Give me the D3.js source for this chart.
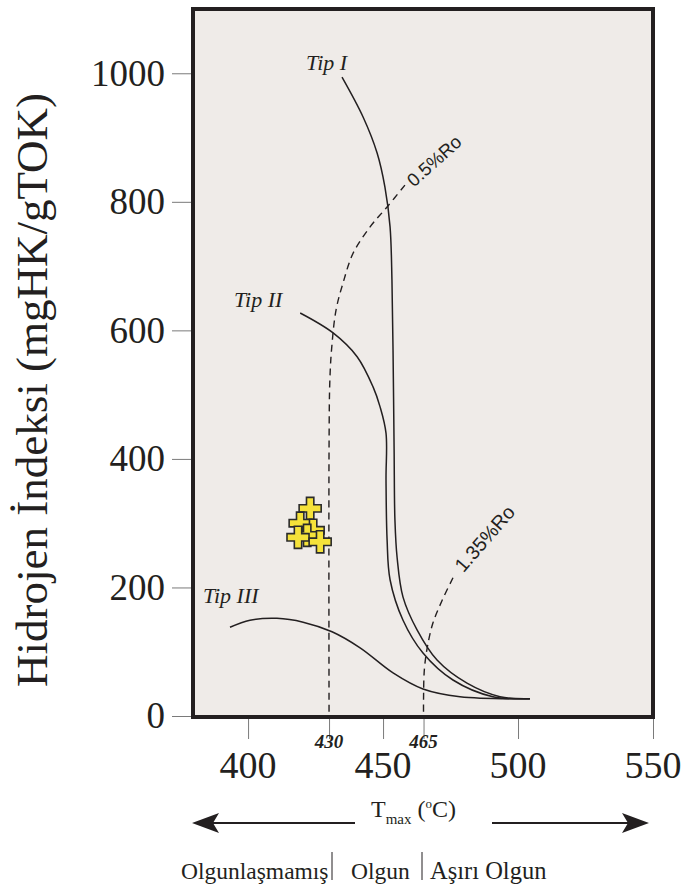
<!DOCTYPE html>
<html>
<head>
<meta charset="utf-8">
<script src="https://cdn.jsdelivr.net/npm/d3@7"></script>
<style>
  body { margin: 0; background: #fff; }
  svg { display: block; }
  text { font-family: "Liberation Serif", "Times New Roman", serif; fill: #231f20; }
  text.sans { font-family: "Liberation Sans", Arial, sans-serif; }
</style>
</head>
<body>
<div id="container"></div>
<script>
// Tmax (oC) vs Hydrogen Index
const tipI = [
  [434.8, 994], [442.6, 932], [447.8, 876], [450.7, 823], [452.6, 761],
  [453.3, 678], [453.7, 569], [454.1, 414], [454.4, 305], [455.2, 247],
  [457.4, 185], [462.6, 134], [470, 87], [481.1, 51], [493.3, 30], [504.4, 27]
];
const tipII = [
  [419.3, 627], [431.5, 596], [440.4, 559], [446.3, 512], [448.9, 481],
  [451.1, 440], [451.1, 367], [451.5, 274], [452.6, 212], [457.4, 149],
  [464.8, 98], [475.9, 56], [490.7, 30], [504.4, 27]
];
const tipIII = [
  [393.3, 138], [400.7, 149], [410.7, 152], [420.4, 146], [431.1, 131],
  [441.5, 106], [453.7, 67], [464.8, 42], [478.5, 30], [504.4, 27]
];
const ro05 = [
  [458.1, 826], [451.5, 792], [445.2, 761], [438.9, 720], [435.2, 674],
  [432.6, 632], [431, 574], [430.3, 523], [430, 420], [430, 0]
];
const ro135 = [
  [475.9, 215], [471.9, 180], [468.5, 145], [466.4, 107], [465.3, 72],
  [465, 25], [465, 0]
];
const samples = [
  [423.0, 323], [419.3, 300], [424.1, 289], [421.9, 281], [418.5, 278], [426.7, 271]
];
const xTicksMain = [400, 450, 500, 550];
const xTicksMinor = [430, 465];
const yTicks = [0, 200, 400, 600, 800, 1000];

const W = 685, H = 889;
const box = { left: 193, right: 653, top: 9, bottom: 717 };

const x = d3.scaleLinear().domain([379.6, 550]).range([box.left, box.right]);
const y = d3.scaleLinear().domain([0, 1100]).range([716, 9]);

const svg = d3.select("#container").append("svg")
  .attr("width", W).attr("height", H);

svg.append("rect")
  .attr("x", box.left).attr("y", box.top)
  .attr("width", box.right - box.left).attr("height", box.bottom - box.top)
  .attr("fill", "#efebe8");

// axes
const yAxis = svg.append("g")
  .attr("transform", "translate(" + box.left + ",0)")
  .call(d3.axisLeft(y).tickValues(yTicks).tickSize(21).tickPadding(7).tickFormat(d3.format("d")));
yAxis.select(".domain").remove();
yAxis.selectAll("line").attr("stroke", "#7a7a7a");
yAxis.selectAll("text")
  .attr("font-size", 37).attr("fill", "#231f20");

const xAxis = svg.append("g")
  .attr("transform", "translate(0," + box.bottom + ")")
  .call(d3.axisBottom(x).tickValues(xTicksMain.concat(xTicksMinor)).tickSize(22).tickFormat(""));
xAxis.select(".domain").remove();
xAxis.selectAll("line").attr("stroke", "#7a7a7a");

svg.selectAll(".xmain").data(xTicksMain).enter().append("text")
  .attr("x", d => x(d)).attr("y", 778)
  .attr("text-anchor", "middle").attr("font-size", 38)
  .text(d => d);

svg.selectAll(".xminor").data(xTicksMinor).enter().append("text")
  .attr("x", d => x(d)).attr("y", 748)
  .attr("text-anchor", "middle").attr("font-size", 19)
  .attr("font-style", "italic").attr("font-weight", "bold")
  .text(d => d);

svg.append("text")
  .attr("transform", "translate(47,390) rotate(-90)")
  .attr("text-anchor", "middle").attr("font-size", 45)
  .text("Hidrojen İndeksi (mgHK/gTOK)");

// curves
const line = d3.line().x(d => x(d[0])).y(d => y(d[1])).curve(d3.curveCatmullRom);

[tipI, tipII, tipIII].forEach(c => {
  svg.append("path").datum(c).attr("d", line)
    .attr("fill", "none").attr("stroke", "#231f20").attr("stroke-width", 1.5);
});
[ro05, ro135].forEach(c => {
  svg.append("path").datum(c).attr("d", line)
    .attr("fill", "none").attr("stroke", "#231f20").attr("stroke-width", 1.4)
    .attr("stroke-dasharray", "7,5");
});

// curve labels
const tipLabels = [["Tip I", 421.5, 1005], ["Tip II", 394.8, 636], ["Tip III", 383.3, 176]];
svg.selectAll(".tip").data(tipLabels).enter().append("text")
  .attr("x", d => x(d[1])).attr("y", d => y(d[2]))
  .attr("font-size", 22).attr("font-style", "italic")
  .text(d => d[0]);

const roLabels = [["0.5%Ro", 461.5, 822, -42, 18.5], ["1.35%Ro", 479.8, 222, -49, 19.5]];
svg.selectAll(".ro").data(roLabels).enter().append("text")
  .attr("class", "sans")
  .attr("transform", d => "translate(" + x(d[1]) + "," + y(d[2]) + ") rotate(" + d[3] + ")")
  .attr("font-size", d => d[4])
  .text(d => d[0]);

// samples
svg.selectAll(".sample").data(samples).enter().append("path")
  .attr("transform", d => "translate(" + x(d[0]) + "," + y(d[1]) + ")")
  .attr("d", d3.symbol(d3.symbolCross, 270))
  .attr("fill", "#f5e23a").attr("stroke", "#2b2b2b").attr("stroke-width", 1.6);

// frame
svg.append("rect")
  .attr("x", box.left).attr("y", box.top)
  .attr("width", box.right - box.left).attr("height", box.bottom - box.top)
  .attr("fill", "none").attr("stroke", "#231f20").attr("stroke-width", 4);

// Tmax arrows
const ay = 823;
svg.append("line").attr("x1", 205).attr("x2", 355).attr("y1", ay).attr("y2", ay)
  .attr("stroke", "#231f20").attr("stroke-width", 2);
svg.append("line").attr("x1", 492).attr("x2", 636).attr("y1", ay).attr("y2", ay)
  .attr("stroke", "#231f20").attr("stroke-width", 2);
svg.append("path")
  .attr("d", `M192,${ay} L219,${ay - 10} L213,${ay} L219,${ay + 10} Z`)
  .attr("fill", "#231f20");
svg.append("path")
  .attr("d", `M649,${ay} L622,${ay - 10} L628,${ay} L622,${ay + 10} Z`)
  .attr("fill", "#231f20");

const tm = svg.append("text").attr("x", 371).attr("y", 817).attr("font-size", 24);
tm.append("tspan").text("T");
tm.append("tspan").attr("font-size", 15).attr("dy", 7).text("max");
tm.append("tspan").attr("dy", -7).text(" (");
tm.append("tspan").attr("font-size", 13).attr("dy", -9).text("o");
tm.append("tspan").attr("dy", 9).text("C)");

// maturity zones
svg.append("text").attr("x", 181).attr("y", 879).attr("font-size", 23.5).text("Olgunlaşmamış");
svg.append("text").attr("x", 351).attr("y", 879).attr("font-size", 23.5).text("Olgun");
svg.append("text").attr("x", 430).attr("y", 879).attr("font-size", 24.5).text("Aşırı Olgun");
[332, 422].forEach(px => {
  svg.append("line").attr("x1", px).attr("x2", px).attr("y1", 852).attr("y2", 880)
    .attr("stroke", "#231f20").attr("stroke-width", 1);
});
</script>
</body>
</html>
